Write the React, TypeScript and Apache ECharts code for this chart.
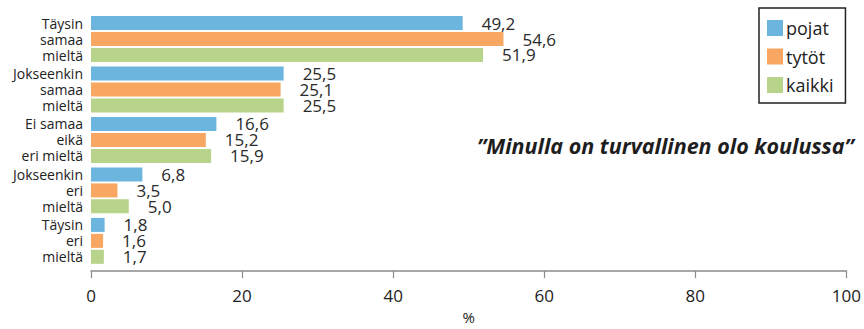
import React, { useEffect, useRef } from "react";
import * as echarts from "echarts";

// Answer categories (top to bottom)
const categories = [
  "Täysin\nsamaa\nmieltä",
  "Jokseenkin\nsamaa\nmieltä",
  "Ei samaa\neikä\neri mieltä",
  "Jokseenkin\neri\nmieltä",
  "Täysin\neri\nmieltä",
];

// Shares in percent
const pojat = [49.2, 25.5, 16.6, 6.8, 1.8];
const tytot = [54.6, 25.1, 15.2, 3.5, 1.6];
const kaikki = [51.9, 25.5, 15.9, 5.0, 1.7];

const seriesNames = ["pojat", "tytöt", "kaikki"];
const colors = ["#6BB5DE", "#F8A762", "#B8D38A"];

const xTicks = { min: 0, max: 100, interval: 20 };
const title = "”Minulla on turvallinen olo koulussa”";

const FONT = "'Open Sans', sans-serif";

export default function App() {
  const ref = useRef<HTMLDivElement>(null);

  useEffect(() => {
    if (!ref.current) return;
    const chart = echarts.init(ref.current, undefined, { renderer: "svg" });
    const fmt = (p: any) => Number(p.value).toFixed(1).replace(".", ",");
    const mk = (name: string, data: number[], color: string) => ({
      name,
      type: "bar",
      data,
      barWidth: 14,
      barGap: "14%",
      itemStyle: { color },
      label: {
        show: true,
        position: "right",
        distance: 19,
        formatter: fmt,
        fontFamily: FONT,
        fontSize: 17,
        lineHeight: 15,
        color: "#2a2a2a",
      },
    });
    chart.setOption({
      animation: false,
      textStyle: { fontFamily: FONT },
      grid: { left: 91, right: 17, top: 13.8, height: 270, containLabel: false },
      legend: {
        orient: "vertical",
        left: 759,
        top: 8,
        data: seriesNames,
        itemWidth: 16,
        itemHeight: 16,
        itemGap: 10.5,
        icon: "rect",
        padding: [11, 12, 9, 8],
        borderColor: "#222",
        borderWidth: 1.5,
        textStyle: {
          fontFamily: FONT,
          fontSize: 18,
          lineHeight: 16,
          color: "#222",
          padding: [0, 0, 0, -2],
        },
      },
      xAxis: {
        type: "value",
        min: xTicks.min,
        max: xTicks.max,
        interval: xTicks.interval,
        offset: 5,
        name: "%",
        nameLocation: "middle",
        nameGap: 29,
        nameTextStyle: { fontFamily: FONT, fontSize: 15, color: "#222" },
        axisLine: { show: true, lineStyle: { color: "#8a8a8a", width: 1.5 } },
        axisTick: { show: true, length: 7, lineStyle: { color: "#8a8a8a", width: 1.2 } },
        axisLabel: { fontFamily: FONT, fontSize: 17, color: "#222", margin: 16 },
        splitLine: { show: false },
      },
      yAxis: {
        type: "category",
        data: categories,
        inverse: true,
        axisLine: { show: false },
        axisTick: { show: false },
        axisLabel: {
          fontFamily: FONT,
          fontSize: 14,
          lineHeight: 16,
          color: "#222",
          margin: 8,
          align: "right",
        },
      },
      graphic: [
        {
          type: "text",
          left: 477,
          top: 134,
          style: {
            text: title,
            fontFamily: FONT,
            fontSize: 21.5,
            fontWeight: "bold",
            fontStyle: "italic",
            fill: "#1e1e1e",
          },
        },
      ],
      series: [
        mk(seriesNames[0], pojat, colors[0]),
        mk(seriesNames[1], tytot, colors[1]),
        mk(seriesNames[2], kaikki, colors[2]),
      ],
    });
    return () => chart.dispose();
  }, []);

  return <div ref={ref} style={{ width: 864, height: 329, position: "absolute", left: 0, top: 0 }} />;
}
